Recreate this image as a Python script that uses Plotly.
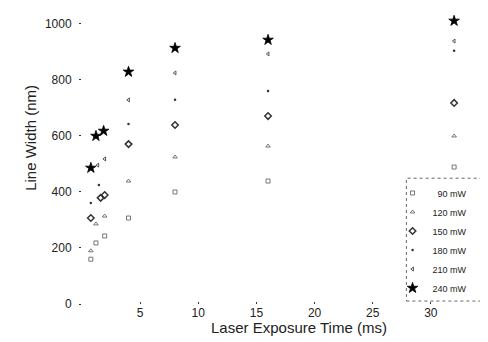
import plotly.graph_objects as go

# Laser exposure time (ms) and line width (nm) per laser power
x_90 = [0.76, 1.2, 1.95, 4, 8, 16, 32]
y_90 = [160, 218, 243, 307, 400, 439, 489]
x_120 = [0.76, 1.2, 1.95, 4, 8, 16, 32]
y_120 = [190, 286, 314, 439, 525, 564, 600]
x_150 = [0.76, 1.6, 1.95, 4, 8, 16, 32]
y_150 = [307, 379, 389, 571, 639, 671, 718]
x_180 = [0.76, 1.45, 4, 8, 16, 32]
y_180 = [361, 425, 643, 729, 761, 904]
x_210 = [1.36, 1.95, 4, 8, 16, 32]
y_210 = [496, 518, 729, 825, 893, 939]
x_240 = [0.76, 1.2, 1.86, 4, 8, 16, 32]
y_240 = [486, 600, 618, 829, 914, 943, 1011]

series_names = ["\u200790 mW", "120 mW", "150 mW", "180 mW", "210 mW", "240 mW"]
x_ticks = [5, 10, 15, 20, 25, 30, 35]
y_ticks = [0, 200, 400, 600, 800, 1000]

data = [(x_90, y_90), (x_120, y_120), (x_150, y_150),
        (x_180, y_180), (x_210, y_210), (x_240, y_240)]
styles = [
    dict(symbol="square-open", size=4, color="#555", line=dict(width=0.8, color="#555")),
    dict(symbol="triangle-up-open", size=4, color="#555", line=dict(width=0.8, color="#555")),
    dict(symbol="diamond-open", size=5, color="#333", line=dict(width=1.5, color="#333")),
    dict(symbol="circle", size=2.5, color="#333"),
    dict(symbol="triangle-left-open", size=3.5, color="#444", line=dict(width=0.9, color="#444")),
    dict(symbol="star", size=8, color="black", line=dict(width=0.8, color="black")),
]

fig = go.Figure()
for (xs, ys), name, st in zip(data, series_names, styles):
    fig.add_trace(go.Scatter(x=xs, y=ys, mode="markers", name=name, marker=st))

fig.update_layout(
    width=488, height=342,
    margin=dict(l=74, r=0, t=0, b=46),
    paper_bgcolor="white", plot_bgcolor="white",
    font=dict(family="Liberation Sans, Arial, sans-serif", color="#222", size=12),
    showlegend=True,
    legend=dict(x=0.763, y=0.424, xanchor="left", yanchor="top",
                font=dict(size=9), bgcolor="rgba(0,0,0,0)",
                tracegroupgap=0, itemwidth=30),
    shapes=[dict(type="rect", xref="paper", yref="paper",
                 x0=0.797, x1=0.983, y0=0.01, y1=0.425,
                 line=dict(color="#666", width=1, dash="dot"))],
    annotations=[
        dict(text="Line Width (nm)", xref="paper", yref="paper",
             x=-0.1256, y=0.561, textangle=-90, showarrow=False,
             xanchor="center", yanchor="middle", font=dict(size=15)),
        dict(text="Laser Exposure Time (ms)", xref="paper", yref="paper",
             x=0.534, y=-0.08, showarrow=False,
             xanchor="center", yanchor="middle", font=dict(size=15)),
    ],
)
fig.update_xaxes(range=[0, 35], tickvals=x_ticks, showgrid=False, zeroline=False,
                 showline=False, ticks="inside", ticklen=2, tickcolor="#333",
                 tickfont=dict(size=12), ticklabeloverflow="allow")
fig.update_yaxes(range=[0, 1057], tickvals=y_ticks, showgrid=False, zeroline=False,
                 showline=False, ticks="outside", ticklen=2, tickcolor="#333",
                 ticklabelstandoff=5, tickfont=dict(size=12))

fig.write_html("out.html")
